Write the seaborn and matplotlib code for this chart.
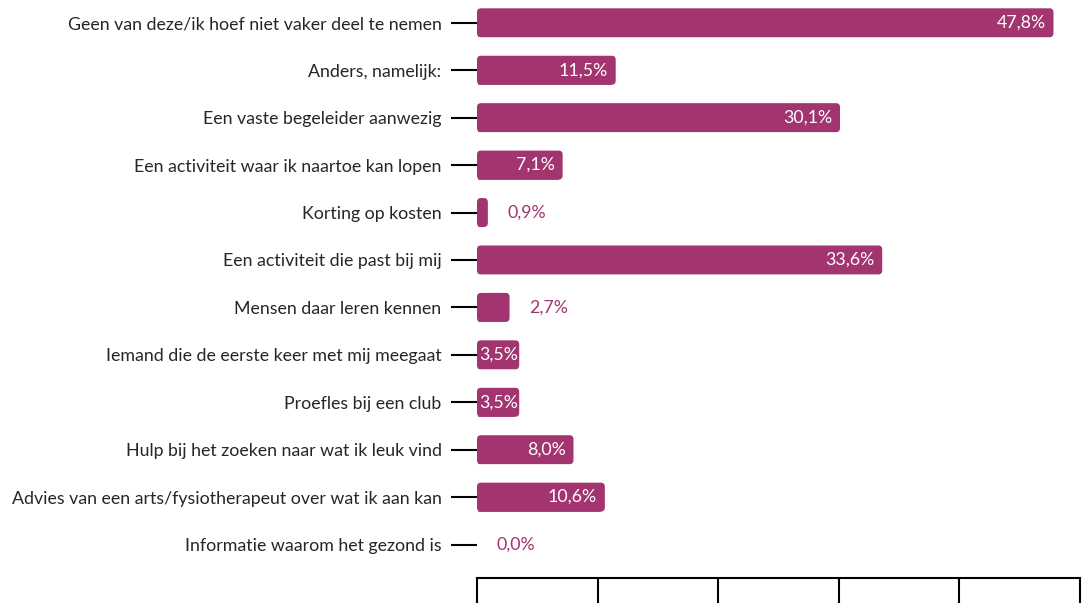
import matplotlib
matplotlib.use("Agg")
import matplotlib.pyplot as plt
from matplotlib.patches import FancyBboxPatch
import seaborn as sns
import pandas as pd

categories = [
    "Geen van deze/ik hoef niet vaker deel te nemen",
    "Anders, namelijk:",
    "Een vaste begeleider aanwezig",
    "Een activiteit waar ik naartoe kan lopen",
    "Korting op kosten",
    "Een activiteit die past bij mij",
    "Mensen daar leren kennen",
    "Iemand die de eerste keer met mij meegaat",
    "Proefles bij een club",
    "Hulp bij het zoeken naar wat ik leuk vind",
    "Advies van een arts/fysiotherapeut over wat ik aan kan",
    "Informatie waarom het gezond is",
]
values = [47.8, 11.5, 30.1, 7.1, 0.9, 33.6, 2.7, 3.5, 3.5, 8.0, 10.6, 0.0]
x_ticks = [0, 10, 20, 30, 40, 50]

BAR = "#A2346F"
FS = 12.8

sns.set_theme(style="white")
plt.rcParams["font.family"] = ["Lato", "DejaVu Sans"]

df = pd.DataFrame({"categorie": categories, "waarde": values})

fig = plt.figure(figsize=(10.82, 6.03), dpi=100)
ax = fig.add_axes([477 / 1082, 25 / 603, 603 / 1082, 578 / 603])

sns.barplot(data=df, x="waarde", y="categorie", orient="h", color=BAR,
            width=0.61, saturation=1, ax=ax)

ax.set_xlim(0, 49.9)
ax.set_ylim(11.705, -0.48)

# rounded right-hand corners on every bar
px_x = 603 / 49.9
px_y = 578 / (11.705 + 0.48)
r = 4 / px_x
for p in list(ax.patches):
    x0, y0 = p.get_x(), p.get_y()
    w, h = p.get_width(), p.get_height()
    if w <= 0:
        continue
    p.set_width(max(w - r, 0) if w > r else w / 2)
    fb = FancyBboxPatch((x0, y0), w, h,
                        boxstyle=f"round,pad=0,rounding_size={min(r, w):.4f}",
                        mutation_aspect=px_x / px_y,
                        facecolor=BAR, edgecolor="none", linewidth=0)
    ax.add_patch(fb)

# value labels: inside (white) for wide bars, outside otherwise
renderer = fig.canvas.get_renderer()
for i, v in enumerate(values):
    txt = f"{v:.1f}".replace(".", ",") + "%"
    if v >= 3.0:
        t = ax.text(v - 8 / px_x, i, txt, ha="right", va="center",
                    color="white", fontsize=FS)
        tw = t.get_window_extent(renderer).width / px_x
        if v - 8 / px_x - tw < 2.5 / px_x:
            t.set_ha("left")
            t.set_x(2.5 / px_x)
    else:
        ax.text(v + 20 / px_x, i, txt, ha="left", va="center",
                color=BAR, fontsize=FS)

ax.set_xlabel("")
ax.set_ylabel("")
ax.set_xticks(x_ticks)
ax.set_xticklabels([])
for s in ("top", "right", "left"):
    ax.spines[s].set_visible(False)
ax.spines["bottom"].set_color("black")
ax.spines["bottom"].set_linewidth(1.5)
ax.tick_params(axis="x", bottom=True, direction="out", length=30,
               width=1.5, color="black")
ax.tick_params(axis="y", left=True, direction="out", length=18.5,
               width=1.5, color="black", pad=7, labelsize=FS,
               labelcolor="#262626")

fig.savefig("out.png", dpi=100)
